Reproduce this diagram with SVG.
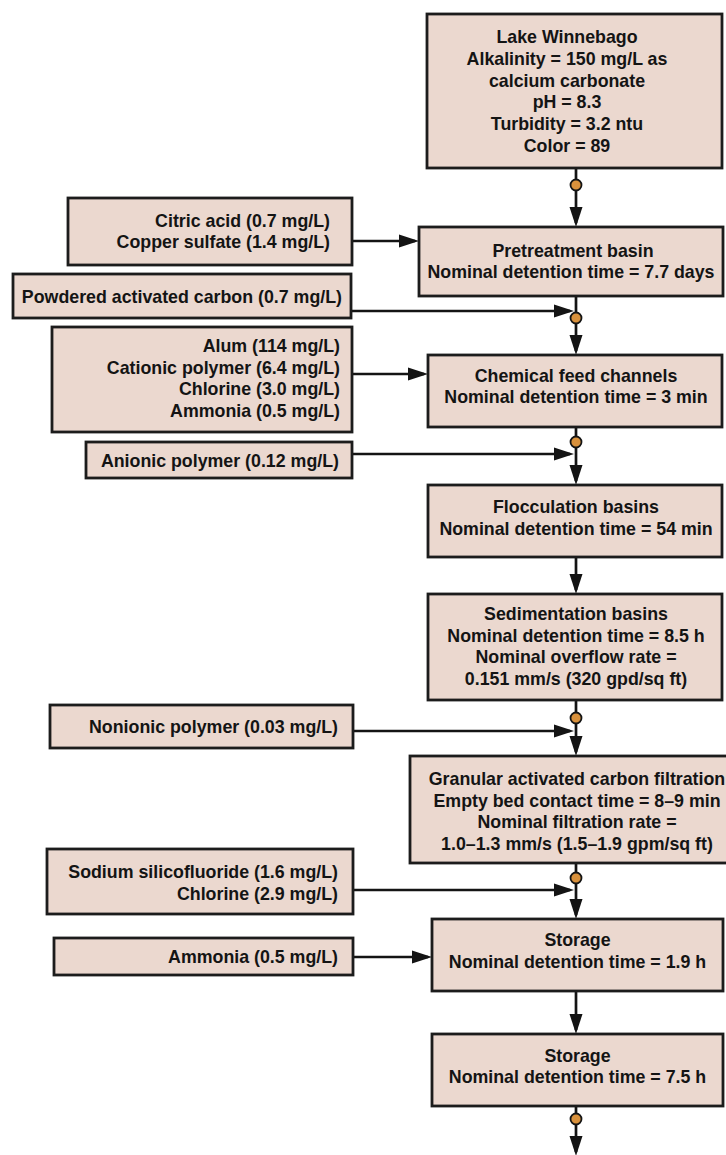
<svg xmlns="http://www.w3.org/2000/svg" width="726" height="1155" viewBox="0 0 726 1155">
<defs>
<style>
.box{fill:#ebd8cf;stroke:#1c1c1c;stroke-width:2.8}
.t{font-family:"Liberation Sans",Arial,Helvetica,sans-serif;font-weight:bold;font-size:17.8px;fill:#141414}
.c{text-anchor:middle}
.r{text-anchor:end}
.ln{fill:none;stroke:#141414;stroke-width:2.7;marker-end:url(#ah)}
.dot{fill:#d9913c;stroke:#141414;stroke-width:1.8}
</style>
<marker id="ah" markerUnits="userSpaceOnUse" markerWidth="21" markerHeight="14" refX="16" refY="7" orient="auto">
<path d="M0,0.5 L20,7 L0,13.5 z" fill="#141414"/>
</marker>
</defs>
<rect width="726" height="1155" fill="#ffffff"/>

<g id="connectors">
<path class="ln" d="M576,168 V223"/>
<path class="ln" d="M352,241 H415"/>
<path class="ln" d="M576,296 V351"/>
<path class="ln" d="M351,311 H570"/>
<path class="ln" d="M352,374 H424"/>
<path class="ln" d="M576,427 V481"/>
<path class="ln" d="M352,454 H570"/>
<path class="ln" d="M576,557 V590"/>
<path class="ln" d="M576,700 V752"/>
<path class="ln" d="M353,731 H570"/>
<path class="ln" d="M576,863 V915"/>
<path class="ln" d="M353,890 H570"/>
<path class="ln" d="M353,957 H428"/>
<path class="ln" d="M576,991 V1030"/>
<path class="ln" d="M576,1106 V1152"/>
<circle class="dot" cx="576" cy="185" r="5.5"/>
<circle class="dot" cx="576" cy="318" r="5.5"/>
<circle class="dot" cx="576" cy="442" r="5.5"/>
<circle class="dot" cx="576" cy="718" r="5.5"/>
<circle class="dot" cx="576" cy="878" r="5.5"/>
<circle class="dot" cx="576" cy="1119" r="5.5"/>
</g>

<g id="lake">
<rect class="box" x="427" y="14" width="295" height="154"/>
<text class="t c" x="567" y="43.3">Lake Winnebago</text>
<text class="t c" x="567" y="65">Alkalinity = 150 mg/L as</text>
<text class="t c" x="567" y="86.7">calcium carbonate</text>
<text class="t c" x="567" y="108.3">pH = 8.3</text>
<text class="t c" x="567" y="130">Turbidity = 3.2 ntu</text>
<text class="t c" x="567" y="151.7">Color = 89</text>
</g>

<g id="citric">
<rect class="box" x="68" y="198" width="284" height="67"/>
<text class="t r" x="330" y="226.7">Citric acid (0.7 mg/L)</text>
<text class="t r" x="330" y="248.3">Copper sulfate (1.4 mg/L)</text>
</g>

<g id="pretreatment">
<rect class="box" x="419" y="227" width="304" height="69"/>
<text class="t c" x="573" y="256.7">Pretreatment basin</text>
<text class="t c" x="571" y="278.3">Nominal detention time = 7.7 days</text>
</g>

<g id="pac">
<rect class="box" x="13" y="274" width="338" height="44"/>
<text class="t r" x="342" y="303.3">Powdered activated carbon (0.7 mg/L)</text>
</g>

<g id="alum">
<rect class="box" x="52" y="327" width="300" height="105"/>
<text class="t r" x="340" y="352">Alum (114 mg/L)</text>
<text class="t r" x="340" y="373.5">Cationic polymer (6.4 mg/L)</text>
<text class="t r" x="340" y="395">Chlorine (3.0 mg/L)</text>
<text class="t r" x="340" y="416.7">Ammonia (0.5 mg/L)</text>
</g>

<g id="chemfeed">
<rect class="box" x="428" y="355" width="294" height="72"/>
<text class="t c" x="576" y="381.7">Chemical feed channels</text>
<text class="t c" x="576" y="403.3">Nominal detention time = 3 min</text>
</g>

<g id="anionic">
<rect class="box" x="86" y="442" width="266" height="36"/>
<text class="t r" x="339" y="466.7">Anionic polymer (0.12 mg/L)</text>
</g>

<g id="flocculation">
<rect class="box" x="428" y="485" width="294" height="72"/>
<text class="t c" x="576" y="513.3">Flocculation basins</text>
<text class="t c" x="576" y="535">Nominal detention time = 54 min</text>
</g>

<g id="sedimentation">
<rect class="box" x="428" y="594" width="294" height="106"/>
<text class="t c" x="576" y="620">Sedimentation basins</text>
<text class="t c" x="576" y="641.7">Nominal detention time = 8.5 h</text>
<text class="t c" x="576" y="663.3">Nominal overflow rate =</text>
<text class="t c" x="576" y="685">0.151 mm/s (320 gpd/sq ft)</text>
</g>

<g id="nonionic">
<rect class="box" x="50" y="705" width="303" height="43"/>
<text class="t r" x="338" y="733.3">Nonionic polymer (0.03 mg/L)</text>
</g>

<g id="gac">
<rect class="box" x="410" y="756" width="334" height="107"/>
<text class="t c" x="577" y="785">Granular activated carbon filtration</text>
<text class="t c" x="577" y="806.7">Empty bed contact time = 8–9 min</text>
<text class="t c" x="577" y="828.3">Nominal filtration rate =</text>
<text class="t c" x="577" y="850">1.0–1.3 mm/s (1.5–1.9 gpm/sq ft)</text>
</g>

<g id="fluoride">
<rect class="box" x="47" y="849" width="306" height="65"/>
<text class="t r" x="338" y="878.3">Sodium silicofluoride (1.6 mg/L)</text>
<text class="t r" x="338" y="900">Chlorine (2.9 mg/L)</text>
</g>

<g id="ammonia">
<rect class="box" x="54" y="938" width="299" height="37"/>
<text class="t r" x="338" y="962.7">Ammonia (0.5 mg/L)</text>
</g>

<g id="storage1">
<rect class="box" x="432" y="919" width="291" height="72"/>
<text class="t c" x="577.5" y="946">Storage</text>
<text class="t c" x="577.5" y="967.5">Nominal detention time = 1.9 h</text>
</g>

<g id="storage2">
<rect class="box" x="432" y="1034" width="291" height="72"/>
<text class="t c" x="577.5" y="1062">Storage</text>
<text class="t c" x="577.5" y="1083">Nominal detention time = 7.5 h</text>
</g>
</svg>
